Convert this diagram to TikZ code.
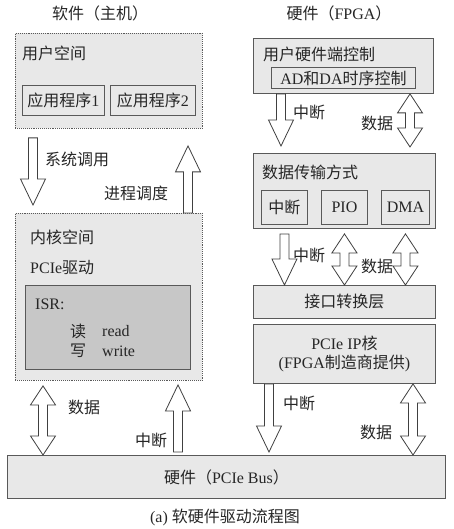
\documentclass[tikz,border=0pt]{standalone}
\usepackage{fontspec}
\setmainfont{Liberation Serif}
\newfontfamily\cjk{Noto Sans CJK SC}
\usetikzlibrary{calc}
\newcommand{\zh}[1]{{\cjk #1}}
% block arrow sizes
\newcommand{\shaftw}{4.5pt}
\newcommand{\headw}{12.5pt}
\newcommand{\headl}{26pt}
\newcommand{\dheadl}{19pt}
% hollow arrow from #1 (tail) to #2 (tip), vertical
\newcommand{\onearrow}[2]{%
  \draw[arr] let \p1=#1, \p2=#2, \n1={sign(\y2-\y1)} in
    ({\x1-\shaftw},\y1) -- ({\x1-\shaftw},{\y2-\n1*\headl}) -- ({\x1-\headw},{\y2-\n1*\headl})
    -- (\x1,\y2) -- ({\x1+\headw},{\y2-\n1*\headl}) -- ({\x1+\shaftw},{\y2-\n1*\headl})
    -- ({\x1+\shaftw},\y1) -- cycle;}
% hollow double arrow between #1 and #2, vertical
\newcommand{\twoarrow}[2]{%
  \draw[arr] let \p1=#1, \p2=#2, \n1={sign(\y2-\y1)} in
    (\x1,\y1) -- ({\x1+\headw},{\y1+\n1*\dheadl}) -- ({\x1+\shaftw},{\y1+\n1*\dheadl})
    -- ({\x1+\shaftw},{\y2-\n1*\dheadl}) -- ({\x1+\headw},{\y2-\n1*\dheadl}) -- (\x1,\y2)
    -- ({\x1-\headw},{\y2-\n1*\dheadl}) -- ({\x1-\shaftw},{\y2-\n1*\dheadl})
    -- ({\x1-\shaftw},{\y1+\n1*\dheadl}) -- ({\x1-\headw},{\y1+\n1*\dheadl}) -- cycle;}

\begin{document}
\begin{tikzpicture}[x=1pt,y=-1pt,
  every node/.style={font=\fontsize{16}{19.5}\selectfont,text=black!85},
  box/.style={draw=black!65,fill=black!9,line width=0.9pt,anchor=north west,inner sep=0pt},
  swbox/.style={box,densely dotted},
  lbl/.style={anchor=west,inner sep=0pt},
  arr/.style={draw=black!75,fill=white,line width=0.8pt,line join=miter}]
\useasboundingbox[fill=white] (0,0) rectangle (453,529);

% Software (host)
\node (swtitle) at (100,13) {\zh{软件（主机）}};
\node[swbox,minimum width=187pt,minimum height=95pt] (user) at (15,33) {};
\node[lbl] (userlbl) at (22,53) {\zh{用户空间}};
\node[box,minimum width=82pt,minimum height=30pt] (app1) at (22,85) {\zh{应用程序}1};
\node[box,minimum width=85pt,minimum height=30pt] (app2) at (110,85) {\zh{应用程序}2};

\node[swbox,minimum width=187pt,minimum height=167pt] (kernel) at (15,213) {};
\node[lbl] (kernlbl) at (30,237) {\zh{内核空间}};
\node[lbl] (drvlbl) at (30,268) {PCIe\zh{驱动}};
\node[box,fill=black!22,minimum width=165pt,minimum height=84pt] (isr) at (25,285) {};
\node[lbl] (isrlbl) at (35,304) {ISR:};
\node[lbl] (rdzh) at (70,331) {\zh{读}};
\node[lbl] (rden) at (102,331) {read};
\node[lbl] (wrzh) at (70,351) {\zh{写}};
\node[lbl] (wren) at (102,351) {write};

% Hardware (FPGA)
\node (hwtitle) at (339,13) {\zh{硬件（}FPGA\zh{）}};
\node[box,minimum width=180pt,minimum height=55pt] (ctrl) at (253,38) {};
\node[lbl] (ctrllbl) at (263,54) {\zh{用户硬件端控制}};
\node[box,minimum width=144pt,minimum height=21pt] (adda) at (271,67) {AD\zh{和}DA\zh{时序控制}};

\node[box,minimum width=182pt,minimum height=75pt] (xfer) at (253,153) {};
\node[lbl] (xferlbl) at (262,172) {\zh{数据传输方式}};
\node[box,minimum width=46pt,minimum height=34pt] (irq) at (261,190) {\zh{中断}};
\node[box,minimum width=46pt,minimum height=34pt] (pio) at (321,190) {PIO};
\node[box,minimum width=48pt,minimum height=34pt] (dma) at (381,190) {DMA};

\node[box,minimum width=182pt,minimum height=33pt] (conv) at (253,285) {\zh{接口转换层}};
\node[box,minimum width=182pt,minimum height=59pt,align=center] (ipcore) at (253,324)
  {PCIe IP\zh{核}\\(FPGA\zh{制造商提供})};

% Bus
\node[box,minimum width=438pt,minimum height=43pt] (bus) at (7,455) {\zh{硬件（}PCIe Bus\zh{）}};
\node (caption) at (225,517) {(a) \zh{软硬件驱动流程图}};

% arrows, software side
\onearrow{([shift={(18pt,-9pt)}]user.south west)}{([shift={(18pt,8pt)}]kernel.north west)}
\onearrow{([xshift=173pt]kernel.north west)}{([shift={(173pt,-17pt)}]user.south west)}
\twoarrow{([shift={(28pt,-5pt)}]kernel.south west)}{([xshift=36pt]bus.north west)}
\onearrow{([shift={(171pt,3pt)}]bus.north west)}{([shift={(163pt,-4pt)}]kernel.south west)}

% arrows, hardware side
\onearrow{([xshift=28pt]ctrl.south west)}{([shift={(28pt,7pt)}]xfer.north west)}
\twoarrow{([xshift=157pt]ctrl.south west)}{([shift={(157pt,6pt)}]xfer.north west)}
\onearrow{([yshift=-9pt]irq.south)}{(conv.north -| irq.south)}
\twoarrow{([yshift=-9pt]pio.south)}{(conv.north -| pio.south)}
\twoarrow{([yshift=-9pt]dma.south)}{(conv.north -| dma.south)}
\onearrow{([xshift=16pt]ipcore.south west)}{([shift={(262pt,3pt)}]bus.north west)}
\twoarrow{([xshift=160pt]ipcore.south west)}{([xshift=406pt]bus.north west)}

% arrow labels
\node[lbl] (l1) at (45,159) {\zh{系统调用}};
\node[lbl] (l2) at (104,193) {\zh{进程调度}};
\node[lbl] (l3) at (293,112) {\zh{中断}};
\node[lbl] (l4) at (361,123) {\zh{数据}};
\node[lbl] (l5) at (293,255) {\zh{中断}};
\node[lbl] (l6) at (361,266) {\zh{数据}};
\node[lbl] (l7) at (68,407) {\zh{数据}};
\node[lbl] (l8) at (135,440) {\zh{中断}};
\node[lbl] (l9) at (283,403) {\zh{中断}};
\node[lbl] (l10) at (360,432) {\zh{数据}};
\end{tikzpicture}
\end{document}
